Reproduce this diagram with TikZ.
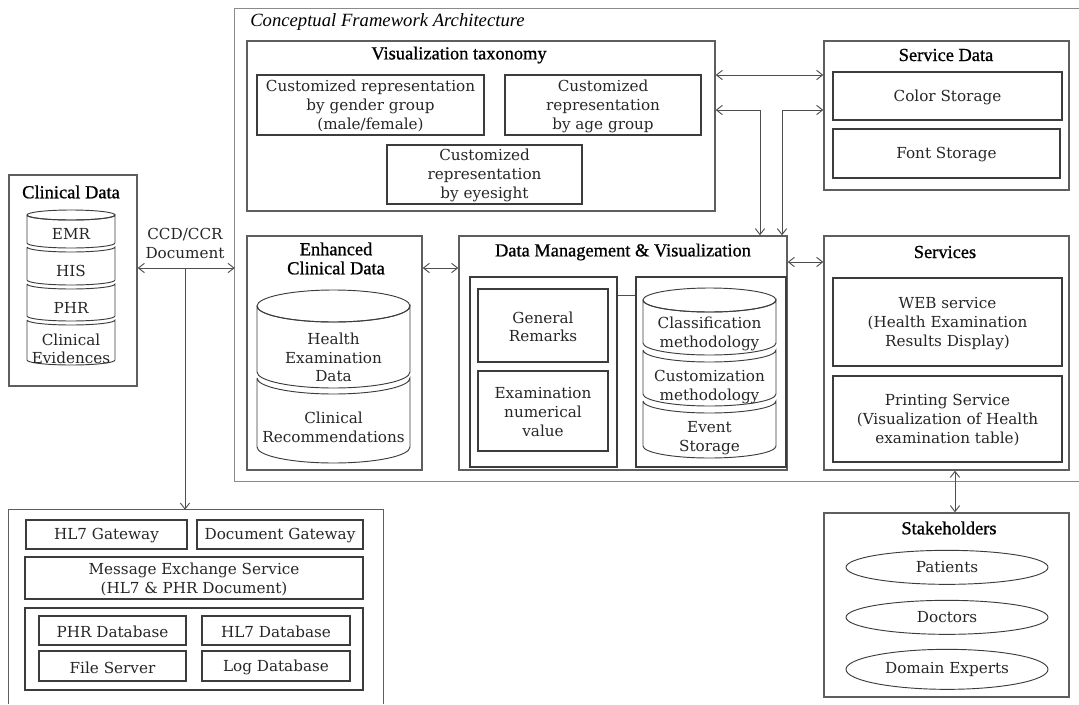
\documentclass[tikz,border=0pt]{standalone}
\usepackage{fontspec}
\setmainfont{DejaVu Serif}
\newfontfamily\titlefont[FakeBold=0.9]{Liberation Serif}
\newfontfamily\headfont{Liberation Serif}
\usetikzlibrary{arrows.meta,fit,shapes.geometric}

\definecolor{frameline}{HTML}{8A8A8A}
\definecolor{outerline}{HTML}{5E5E5E}
\definecolor{innerline}{HTML}{3C3C3C}
\definecolor{inktext}{HTML}{262626}
\definecolor{wire}{HTML}{4E4E4E}

\tikzset{
  bodytext/.style={text=inktext, align=center, inner sep=0pt, yshift=-1pt,
    font=\fontsize{11.4}{14.2}\selectfont},
  titletext/.style={text=black, align=center, inner sep=0pt,
    font=\titlefont\fontsize{13.8}{14.3}\selectfont},
  outerbox/.style={draw=outerline, line width=1pt, inner sep=0pt},
  innerbox/.style={draw=innerline, line width=0.8pt, inner sep=0pt},
  region/.style={draw=none, inner sep=0pt},
  cylline/.style={draw=innerline, line width=0.7pt},
  actor/.style={ellipse, draw=innerline, line width=0.7pt, inner sep=0pt,
    minimum width=151.5pt, bodytext, yshift=0pt},
  wireline/.style={draw=wire, line width=0.7pt},
  link/.style={wireline, {Straight Barb[length=4.5pt,width=7pt]}-{Straight Barb[length=4.5pt,width=7pt]}},
  feed/.style={wireline, -{Straight Barb[length=4.5pt,width=7pt]}},
}

% one stacked slice of a database drum: sides, lower rim and upper rim
\newcommand\drumslice[5]{% left, right, top, bottom, rim radius
  \draw[cylline] (#1,#3) -- (#1,#4)
    arc[start angle=180,end angle=0,x radius={(#2-#1)/2},y radius=#5]
    -- (#2,#3)
    arc[start angle=0,end angle=180,x radius={(#2-#1)/2},y radius=#5];}
% the closed lid on top of a drum
\newcommand\drumlid[4]{% left, right, y, rim radius
  \draw[cylline] ({(#1+#2)/2},#3) ellipse[x radius={(#2-#1)/2},y radius=#4];}

\begin{document}
\begin{tikzpicture}[x=0.75pt,y=-0.75pt]
\useasboundingbox (0,0) rectangle (1079,704);

% ---------- Clinical Data ----------
\node (clin) [outerbox, fit={(9,175)(137,386)}] {};
\node (clinT) [titletext] at (71,192) {Clinical Data};
\drumlid{27}{115}{215}{5}
\drumslice{27}{115}{215}{243}{5}
\drumslice{27}{115}{247}{280}{5}
\drumslice{27}{115}{284}{316}{5}
\drumslice{27}{115}{320}{360}{5}
\node (emr) [bodytext] at (71,233) {EMR};
\node (his) [bodytext] at (71,270) {HIS};
\node (phr) [bodytext] at (71,307) {PHR};
\node (cev) [bodytext] at (71,347.5) {Clinical\\Evidences};

\node (ccdT) [bodytext] at (185,242) {CCD/CCR\\Document};
\coordinate (ccd) at (185,268);

% ---------- Health information exchange ----------
\node (hie) [region, fit={(9,510)(383,704)}] {};
\draw[outerbox] (hie.south west) |- (hie.north east) -- (hie.south east);
\node (hl7gw) [innerbox, fit={(26,520)(187,549)}] {};
\node (docgw) [innerbox, fit={(197,520)(363,549)}] {};
\node (mes) [innerbox, fit={(25,557)(363,599)}] {};
\node (dbs) [innerbox, fit={(25,608)(363,690)}] {};
\node (phrdb) [innerbox, fit={(39,616)(186,645)}] {};
\node (hl7db) [innerbox, fit={(202,616)(350,645)}] {};
\node (files) [innerbox, fit={(39,651)(186,681)}] {};
\node (logdb) [innerbox, fit={(202,651)(350,681)}] {};
\node (hl7gwL) [bodytext] at (hl7gw.center) {HL7 Gateway};
\node (docgwL) [bodytext] at (docgw.center) {Document Gateway};
\node (mesL) [bodytext] at (mes.center) {Message Exchange Service\\(HL7 \& PHR Document)};
\node (phrdbL) [bodytext] at (phrdb.center) {PHR Database};
\node (hl7dbL) [bodytext] at (hl7db.center) {HL7 Database};
\node (filesL) [bodytext] at (files.center) {File Server};
\node (logdbL) [bodytext] at (logdb.center) {Log Database};

% ---------- Conceptual framework ----------
\node (frame) [region, fit={(235,9)(1090,481)}] {};
\draw[draw=frameline, line width=1pt] (frame.north east) -| (frame.south west) -- (frame.south east);
\node (frameT) [anchor=west, inner sep=0pt, text=black,
  font=\headfont\itshape\fontsize{14}{16}\selectfont] at (250,22) {Conceptual Framework Architecture};

% visualization taxonomy
\node (vis) [outerbox, fit={(247,41)(715,211)}] {};
\node (visT) [titletext] at (459,55) {Visualization taxonomy};
\node (gender) [innerbox, fit={(257,75)(484,135)}] {};
\node (age) [innerbox, fit={(505,75)(701,135)}] {};
\node (eye) [innerbox, fit={(387,145)(582,204)}] {};
\node (genderL) [bodytext] at (gender.center) {Customized representation\\by gender group\\(male/female)};
\node (ageL) [bodytext] at (age.center) {Customized\\representation\\by age group};
\node (eyeL) [bodytext] at (eye.center) {Customized\\representation\\by eyesight};

% service data
\node (sd) [outerbox, fit={(824,41)(1069,190)}] {};
\node (sdT) [titletext] at (946,55) {Service Data};
\node (color) [innerbox, fit={(833,72)(1062,120)}] {};
\node (font) [innerbox, fit={(833,129)(1060,178)}] {};
\node (colorL) [bodytext] at (color.center) {Color Storage};
\node (fontL) [bodytext] at (font.center) {Font Storage};

% enhanced clinical data
\node (ecd) [outerbox, fit={(247,236)(422,470)}] {};
\node (ecdT) [titletext] at (336,258.5) {Enhanced\\Clinical Data};
\drumlid{257}{410}{306}{16}
\drumslice{257}{410}{306}{372}{16}
\drumslice{257}{410}{378}{447}{16}
\node (hed) [bodytext] at (333.5,356) {Health\\Examination\\Data};
\node (crec) [bodytext] at (333.5,426) {Clinical\\Recommendations};

% data management & visualization
\node (dmv) [outerbox, fit={(459,236)(787,470)}] {};
\node (dmvT) [titletext] at (623,252) {Data Management \& Visualization};
\node (lbox) [innerbox, fit={(470,277)(617,467)}] {};
\node (remarks) [innerbox, fit={(478,289)(608,362)}] {};
\node (numval) [innerbox, fit={(478,371)(608,451)}] {};
\node (remarksL) [bodytext] at (remarks.center) {General\\Remarks};
\node (numvalL) [bodytext] at (numval.center) {Examination\\numerical\\value};
\node (rbox) [innerbox, fit={(636,277)(786,467)}] {};
\drumlid{643}{776}{300}{12}
\drumslice{643}{776}{300}{343}{12}
\drumslice{643}{776}{350}{394}{12}
\drumslice{643}{776}{401}{446}{12}
\node (classm) [bodytext] at (709.5,332.5) {Classification\\methodology};
\node (custm) [bodytext] at (709.5,385.5) {Customization\\methodology};
\node (event) [bodytext] at (709.5,436.5) {Event\\Storage};

% services
\node (svc) [outerbox, fit={(824,236)(1069,470)}] {};
\node (svcT) [titletext] at (945,252) {Services};
\node (web) [innerbox, fit={(833,278)(1062,366)}] {};
\node (print) [innerbox, fit={(833,376)(1062,462)}] {};
\node (webL) [bodytext] at (web.center) {WEB service\\(Health Examination\\Results Display)};
\node (printL) [bodytext] at (print.center) {Printing Service\\(Visualization of Health\\examination table)};

% ---------- Stakeholders ----------
\node (stk) [outerbox, fit={(824,513)(1069,697)}] {};
\node (stkT) [titletext] at (949,528) {Stakeholders};
\node (patients) [actor, minimum height=25.5pt] at (947,566) {Patients};
\node (doctors) [actor, minimum height=25.5pt] at (947,616) {Doctors};
\node (experts) [actor, minimum height=30pt] at (947,668) {Domain Experts};

% ---------- connectors ----------
\coordinate (visY) at (0,75);
\coordinate (kA) at (760,110);
\coordinate (kB) at (782,110);
\coordinate (svcY) at (0,262);
\coordinate (dbY) at (0,295);
\coordinate (stkX) at (955,0);

\draw[link] (clin.east |- ccd) -- (frame.west |- ccd);
\draw[feed] (ccd) -- (ccd |- hie.north);
\draw[link] (vis.east |- visY) -- (sd.west |- visY);
\draw[link] (vis.east |- kA) -| (dmv.north -| kA);
\draw[link] (dmv.north -| kB) |- (sd.west |- kB);
\draw[link] (ecd.east |- ccd) -- (dmv.west |- ccd);
\draw[link] (dmv.east |- svcY) -- (svc.west |- svcY);
\draw[wireline] (lbox.east |- dbY) -- (rbox.west |- dbY);
\draw[link] (svc.south -| stkX) -- (stk.north -| stkX);
\end{tikzpicture}
\end{document}
